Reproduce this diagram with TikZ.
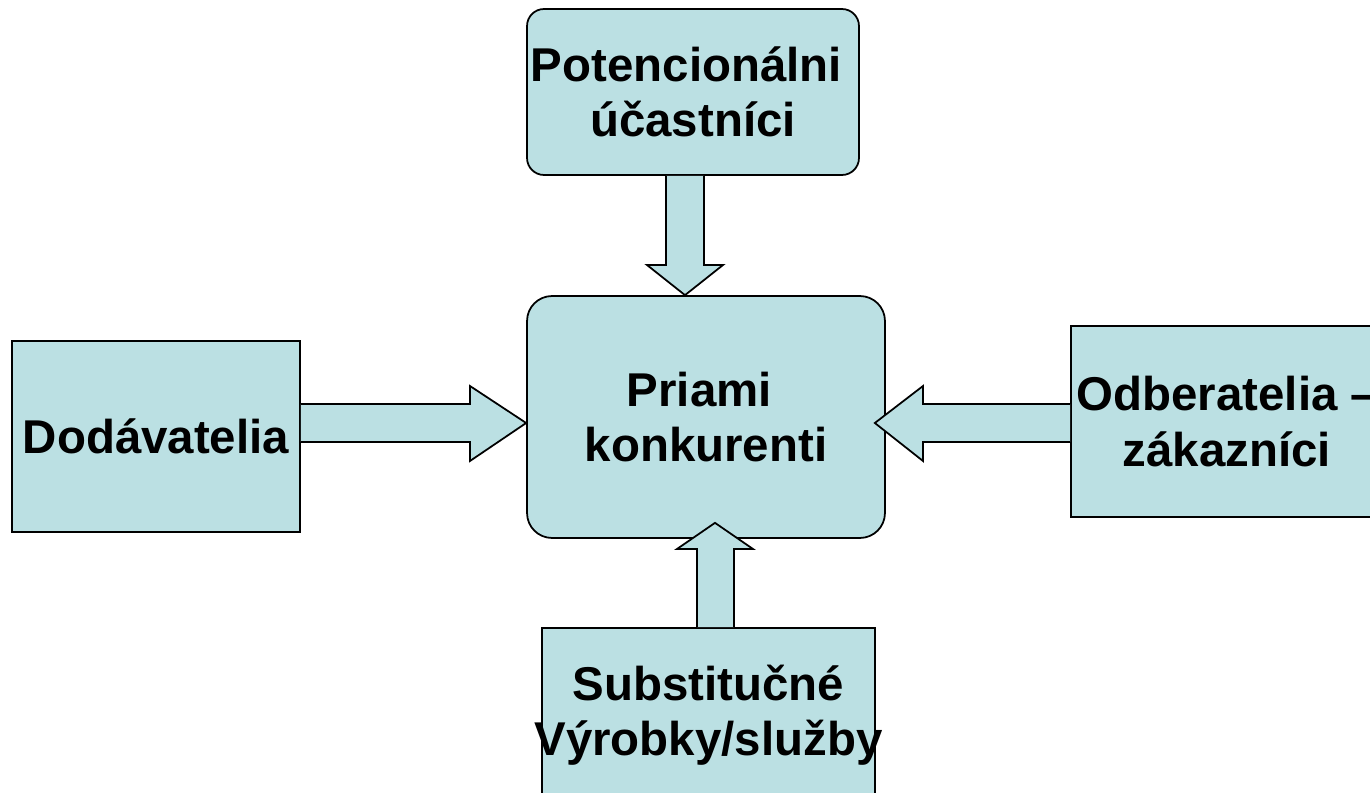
\documentclass[tikz,border=0pt]{standalone}
\usepackage{fontspec}
\setmainfont{Liberation Sans}
\usetikzlibrary{calc}
\definecolor{boxblue}{HTML}{BBE0E3}
\newcommand{\boxfont}{\fontsize{27pt}{31.5pt}\selectfont\bfseries}

\begin{document}
\begin{tikzpicture}[x=0.02cm, y=-0.02cm,
    box/.style={draw, fill=boxblue, line width=1pt, inner sep=0pt, align=center, font=\boxfont},
    roundbox/.style={box, rounded corners=#1},
    fatarrow/.style={draw, fill=boxblue, line width=1pt, line join=miter}]
  \useasboundingbox (0,0) rectangle (1370,793);

  % the five forces
  \node [roundbox=0.34cm, minimum width=6.64cm, minimum height=3.32cm] (pot) at (693, 92) {Potencionálni\hspace*{.28em}\\účastníci};
  \node [roundbox=0.5cm, minimum width=7.16cm, minimum height=4.84cm] (priami) at (706, 417) {Priami\hspace*{.28em}\\konkurenti};
  \node [box, minimum width=5.76cm, minimum height=3.82cm] (dod) at (156, 436.5) {Dodávatelia};
  \node [box, minimum width=6.24cm, minimum height=3.82cm] (odb) at (1227, 421.5) {Odberatelia –\\zákazníci};
  \node [box, minimum width=6.66cm, minimum height=3.48cm] (sub) at (708.5, 715) {Substitučné\\\makebox[0pt]{Výrobky/služby}};

  % block arrows
  \draw[fatarrow] (666,0 |- pot.south) -- (666, 265) -- ++(-19, 0) -- (priami.north -| 685,0) -- (723, 265) -- ++(-19, 0) -- (704,0 |- pot.south);
  \draw[fatarrow] (dod.east |- 0,404) -- (470, 404) -- ++(0, -18) -- (priami.west |- 0,423) -- (470, 461) -- ++(0, -19) -- (dod.east |- 0,442);
  \draw[fatarrow] (odb.west |- 0,404) -- (923, 404) -- ++(0, -18) -- ($(priami.east |- 0,423)+(-11, 0)$) -- (923, 461) -- ++(0, -19) -- (odb.west |- 0,442);
  \draw[fatarrow] (697,0 |- sub.north) -- (697, 549) -- ++(-20, 0) -- ($(priami.south -| 715,0)+(0, -16)$) -- (753, 549) -- ++(-19, 0) -- (734,0 |- sub.north);
\end{tikzpicture}
\end{document}
